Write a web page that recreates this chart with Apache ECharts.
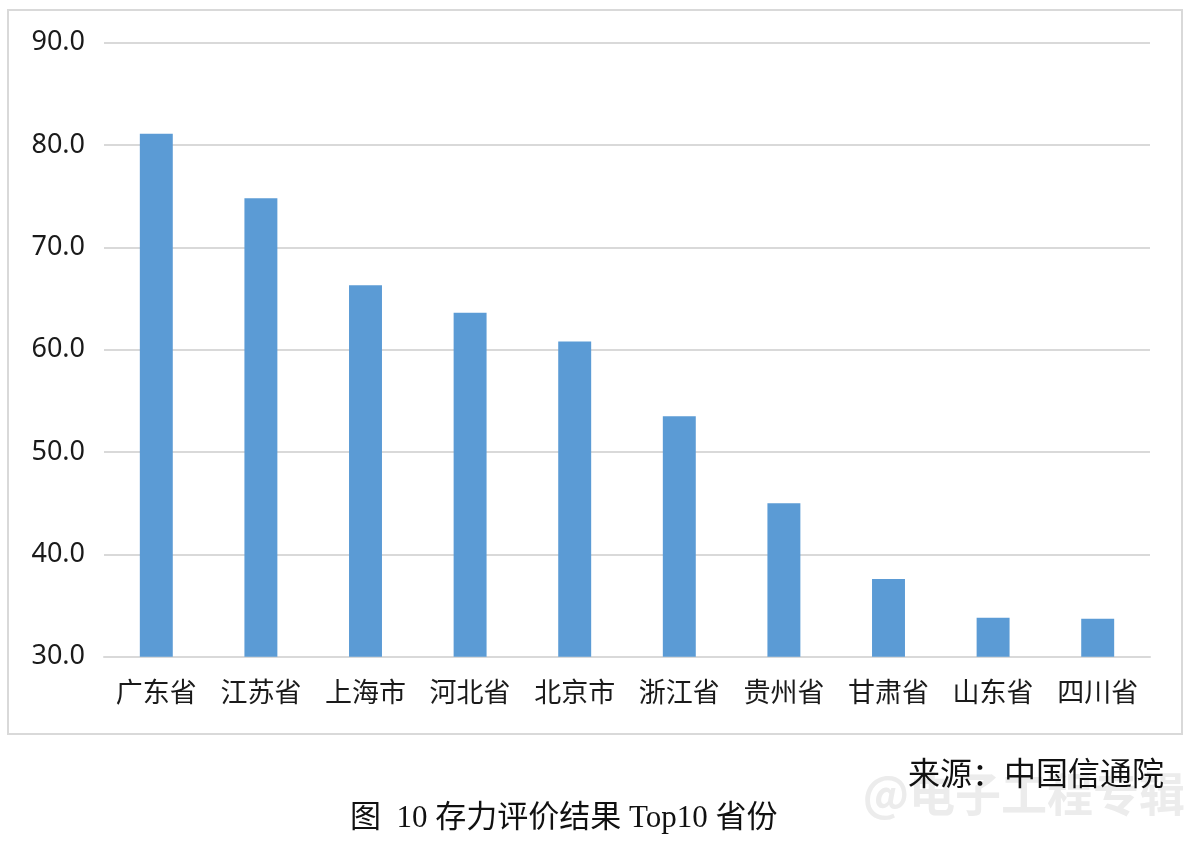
<!DOCTYPE html>
<html><head><meta charset="utf-8">
<script src="https://cdn.jsdelivr.net/npm/echarts@6/dist/echarts.min.js"></script>
<style>html,body{margin:0;padding:0;background:#fff}#c{width:1200px;height:854px}</style>
</head><body><div id="c"></div>
<script>
const categories = ['广东省','江苏省','上海市','河北省','北京市','浙江省','贵州省','甘肃省','山东省','四川省'];
const values = [81.1, 74.8, 66.3, 63.6, 60.8, 53.5, 45.0, 37.6, 33.8, 33.7];
const sourceText = '来源：中国信通院';
const captionText = '图  10 存力评价结果 Top10 省份';
const watermarkText = '@电子工程专辑';

const chart = echarts.init(document.getElementById('c'), null, {renderer:'canvas'});
chart.setOption({
  backgroundColor:'#fff',
  animation:false,
  grid:{left:104, right:50, top:42.7, bottom:197.3},
  xAxis:{
    type:'category', data:categories,
    axisLine:{show:true, lineStyle:{color:'#d9d9d9', width:2}},
    axisTick:{show:false},
    axisLabel:{interval:0, color:'#1a1a1a', fontSize:27, margin:22, fontFamily:'"Noto Sans CJK SC", sans-serif'}
  },
  yAxis:{
    type:'value', min:30, max:90, interval:10,
    axisLine:{show:false}, axisTick:{show:false},
    splitLine:{lineStyle:{color:'#d9d9d9', width:2}},
    axisLabel:{color:'#1a1a1a', fontSize:27, margin:19, fontFamily:'"Noto Sans", sans-serif',
      formatter:v=>v.toFixed(1)}
  },
  series:[{
    type:'bar', data:values, barWidth:'31.5%',
    itemStyle:{color:'#5b9bd5'}
  }],
  graphic:[
    {type:'rect', z:-1, shape:{x:8, y:10, width:1174, height:724},
     style:{fill:'none', stroke:'#d9d9d9', lineWidth:2}},
    {type:'text', x:1185, y:794, z:-1, style:{text:watermarkText, fill:'#ececec', font:'bold 46px "Noto Sans CJK SC"', textAlign:'right', textVerticalAlign:'middle'}},
    {type:'text', x:1164, y:773, style:{text:sourceText, fill:'#111', font:'32px "Noto Sans CJK SC"', textAlign:'right', textVerticalAlign:'middle'}},
    {type:'text', x:350, y:819, style:{text:captionText, fill:'#111', font:'31px "Liberation Serif", "Noto Sans CJK SC"', textAlign:'left', textVerticalAlign:'middle'}}
  ]
});
</script></body></html>
